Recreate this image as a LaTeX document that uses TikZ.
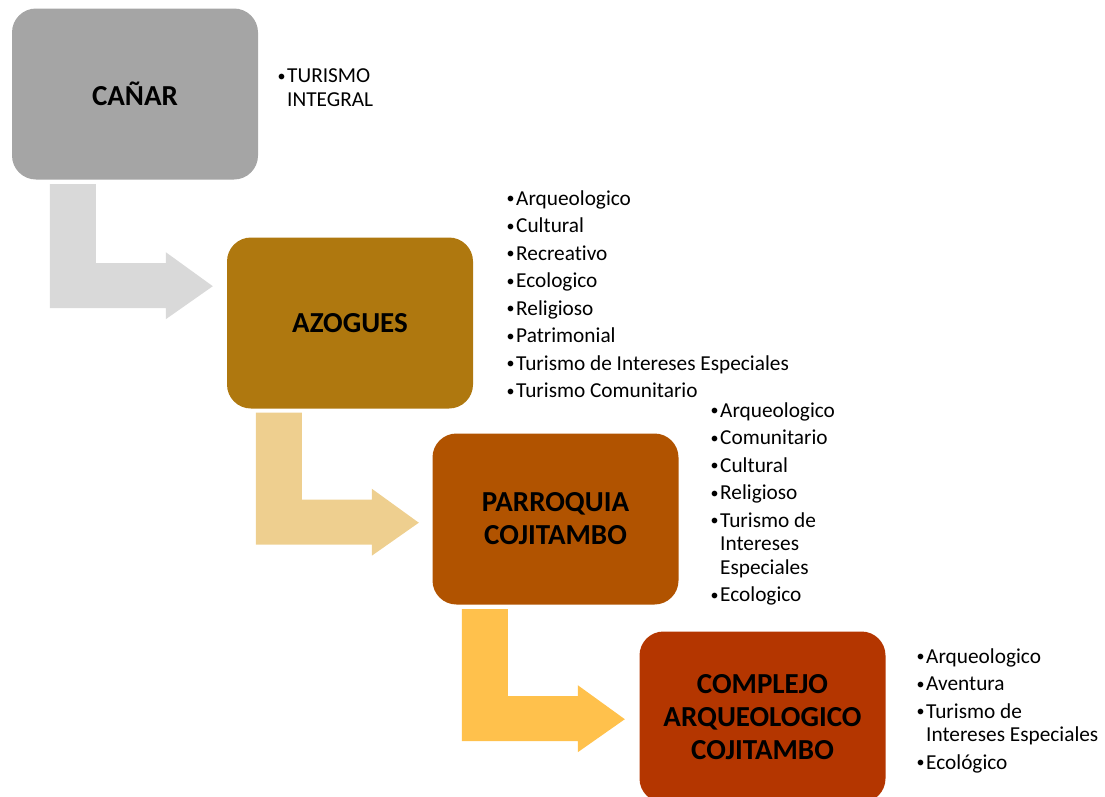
\documentclass[tikz,border=0pt]{standalone}
\usepackage{fontspec}
\setmainfont{Carlito}[RawFeature={-liga;-dlig;-clig;-calt;-hlig}]
\usetikzlibrary{calc}
\definecolor{boxgray}{HTML}{A5A5A5}
\definecolor{arrgray}{HTML}{D9D9D9}
\definecolor{boxgold}{HTML}{AF780F}
\definecolor{arrtan}{HTML}{EECF8F}
\definecolor{boxrust}{HTML}{B15300}
\definecolor{arryellow}{HTML}{FFC14C}
\definecolor{boxred}{HTML}{B43600}
\newcommand\blt{\makebox[9pt][l]{\hspace*{-0.5pt}\raisebox{1.5pt}{\fontsize{16}{16}\selectfont •}}}
\newcommand\hang{\hspace*{9pt}}
% bent block arrow: colour, top-left corner coordinate, length of the stem
\newcommand\bentarrow[3]{%
  \fill[#1] (#2) -- ++(46,0) -- ++(0,#3-45) -- ++(70,0) -- ++(0,-11)
    -- ++(47,34) -- ++(-47,33) -- ++(0,-11) -- ++(-116,0) -- cycle;}
\begin{document}
\begin{tikzpicture}[x=1pt,y=-1pt,
  stage/.style={rounded corners=24pt, minimum width=246pt, minimum height=171pt,
    inner sep=0pt, align=center, text=black,
    font=\fontsize{29}{33}\selectfont\bfseries},
  itemlist/.style={anchor=base west, inner sep=0pt,
    font=\fontsize{21.3}{23.5}\selectfont}]
\useasboundingbox (0,0) rectangle (1105,796);

% stages
\node[stage, fill=boxgray] (canar) at (135,94) {CAÑAR};
\node[stage, fill=boxgold] (azogues) at (350,323) {AZOGUES};
\node[stage, fill=boxrust] (parroquia) at (555.5,519) {PARROQUIA\\COJITAMBO};
\node[stage, fill=boxred] (complejo) at (762.5,717) {COMPLEJO\\ARQUEOLOGICO\\COJITAMBO};

% bent arrows
\coordinate (a1) at ($(canar.south west)+(38,4.5)$);
\coordinate (a2) at ($(azogues.south west)+(29,4)$);
\coordinate (a3) at ($(parroquia.south west)+(29.5,4.5)$);
\bentarrow{arrgray}{a1}{124}
\bentarrow{arrtan}{a2}{132}
\bentarrow{arryellow}{a3}{132}

% lists
\node[itemlist] (l1) at (278,82.5) {\begin{tabular}[t]{@{}l@{}}
\blt TURISMO\\
\hang INTEGRAL
\end{tabular}};

\node[itemlist] (l2) at (507,205) {\begin{tabular}[t]{@{}l@{}}
\blt Arqueologico\\[4pt]
\blt Cultural\\[4pt]
\blt Recreativo\\[4pt]
\blt Ecologico\\[4pt]
\blt Religioso\\[4pt]
\blt Patrimonial\\[4pt]
\blt Turismo de Intereses Especiales\\[4pt]
\blt Turismo Comunitario
\end{tabular}};

\node[itemlist] (l3) at (711,417) {\begin{tabular}[t]{@{}l@{}}
\blt Arqueologico\\[4pt]
\blt Comunitario\\[4pt]
\blt Cultural\\[4pt]
\blt Religioso\\[4pt]
\blt Turismo de\\
\hang Intereses\\
\hang Especiales\\[4pt]
\blt Ecologico
\end{tabular}};

\node[itemlist] (l4) at (917,663) {\begin{tabular}[t]{@{}l@{}}
\blt Arqueologico\\[4pt]
\blt Aventura\\[4pt]
\blt Turismo de\\
\hang Intereses Especiales\\[4pt]
\blt Ecológico
\end{tabular}};
\end{tikzpicture}
\end{document}
